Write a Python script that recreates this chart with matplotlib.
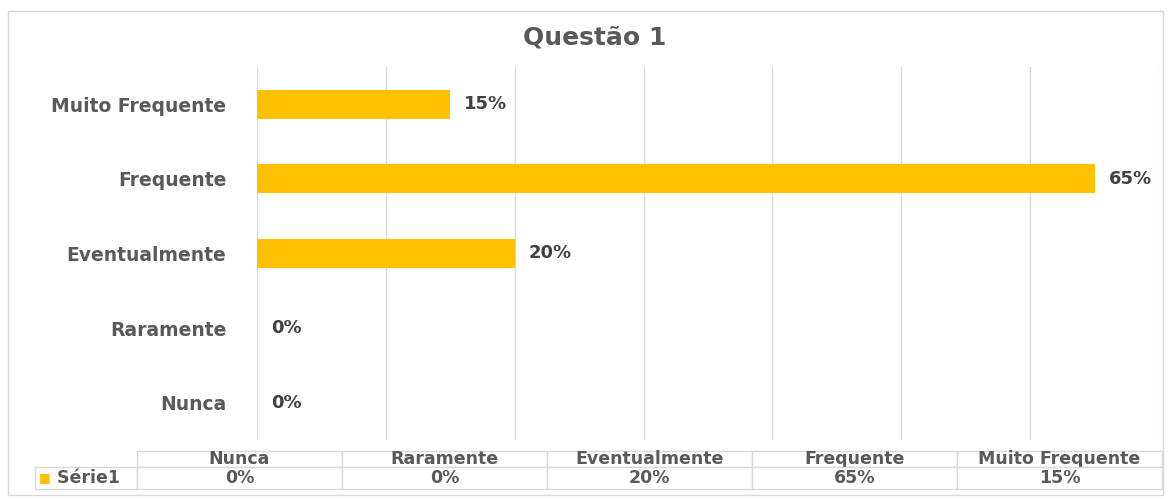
import numpy as np
import matplotlib.pyplot as plt
from matplotlib.patches import Rectangle

plt.rcParams['font.family'] = ['DejaVu Sans']

# data
categories = ['Nunca', 'Raramente', 'Eventualmente', 'Frequente', 'Muito Frequente']
values = [0, 0, 20, 65, 15]
series_name = 'Série1'
title = 'Questão 1'

bar_color = '#FFC000'
text_color = '#595959'
grid_color = '#d9d9d9'

fig = plt.figure(figsize=(11.73, 4.99), dpi=100)
# chart border
fig.add_artist(Rectangle((8 / 1173, 1 - 495 / 499), 1155 / 1173, 484 / 499,
                         transform=fig.transFigure, fill=False,
                         edgecolor=grid_color, linewidth=1))

ax = fig.add_axes([257 / 1173, 1 - 440 / 499, 902 / 1173, 373 / 499])
y = np.arange(len(categories))
ax.barh(y, values, height=0.39, color=bar_color, zorder=3)

ax.set_xlim(0, 70)
ax.set_ylim(-0.5, len(categories) - 0.5)
ax.set_xticks(np.arange(0, 71, 10))
ax.set_xticklabels([])
ax.grid(axis='x', color=grid_color, linewidth=1)
ax.tick_params(axis='both', length=0)
ax.tick_params(axis='y', pad=22)
ax.set_yticks(y)
ax.set_yticklabels(categories, fontsize=13.5, fontweight='bold', color=text_color)
for s in ax.spines.values():
    s.set_visible(False)

for yi, v in zip(y, values):
    ax.annotate(f'{v}%', xy=(v, yi), xytext=(10, 0), textcoords='offset points',
                ha='left', va='center', fontsize=13, fontweight='bold',
                color='#404040')

fig.text(595 / 1173, 1 - 37 / 499, title, ha='center', va='center',
         fontsize=18, fontweight='bold', color=text_color)

# data table
col_w = np.array([102] + [205] * len(categories), dtype=float)
cell_text = [[''] + categories, [series_name] + [f'{v}%' for v in values]]
tbl = ax.table(cellText=cell_text, colWidths=list(col_w / col_w.sum()),
               cellLoc='center',
               bbox=[(35 - 257) / 902, -(489 - 440) / 373, 1127 / 902, 38 / 373])
tbl.auto_set_font_size(False)
for (r, c), cell in tbl.get_celld().items():
    cell.set_edgecolor(grid_color)
    cell.set_linewidth(1)
    cell.get_text().set_fontsize(12.5)
    cell.get_text().set_fontweight('bold')
    cell.get_text().set_color(text_color)
    if r == 0:
        cell.set_height(16)
    else:
        cell.set_height(22)
    if r == 0 and c == 0:
        cell.visible_edges = ''
    if r == 1 and c == 0:
        cell.get_text().set_text('  ' + series_name)
        cell._loc = 'left'
        cell.get_text().set_ha('left')

fig.text(45 / 1173, 1 - 478 / 499, '■', ha='center', va='center',
         fontsize=9, color=bar_color)

fig.savefig('out.png', dpi=100)
